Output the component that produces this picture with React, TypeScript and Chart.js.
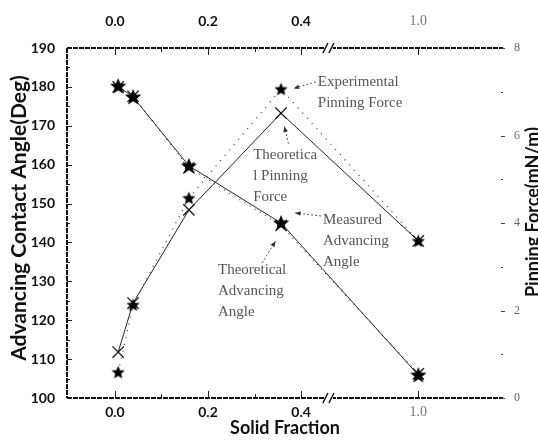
import { useEffect, useRef } from 'react';
import { Chart, registerables } from 'chart.js';
Chart.register(...registerables);

// ---- data ----
const solidFraction = [0.007, 0.039, 0.159, 0.357, 1.0];
const measuredAngle = [180.2, 177.4, 159.7, 145.0, 105.9];
const theoreticalAngle = [180.0, 177.6, 159.2, 144.4, 106.2];
const experimentalForce = [0.59, 2.13, 4.57, 7.06, 3.59];
const theoreticalForce = [1.05, 2.17, 4.3, 6.51, 3.59];
const xTickValues = [0, 0.2, 0.4, 1.0];
const xTickLabels = ['0.0', '0.2', '0.4', '1.0'];
const xMinorValues = [0.1, 0.3];
const angleMin = 100;
const angleMax = 190;
const forceMin = 0;
const forceMax = 8;

// broken x axis: values above BREAK_LO are compressed
const BREAK_LO = 0.45;
const BREAK_SCALE = 0.3673;
const BREAK_POS = 0.462;
const X_MIN = -0.103;
const X_MAX = 0.834;
const toAxis = (v: number) => (v <= BREAK_LO ? v : BREAK_LO + (v - BREAK_LO) * BREAK_SCALE);

type Note = { lines: string[]; x: number; y: number; from: [number, number]; to: [number, number] };
const notes: Note[] = [
  { lines: ['Experimental', 'Pinning Force'], x: 0.436, y: 181.3, from: [0.432, 181.3], to: [0.384, 179.6] },
  { lines: ['Theoretica', 'l Pinning', 'Force'], x: 0.297, y: 162.5, from: [0.373, 165.4], to: [0.364, 169.8] },
  { lines: ['Measured', 'Advancing', 'Angle'], x: 0.447, y: 145.8, from: [0.443, 146.8], to: [0.387, 147.6] },
  { lines: ['Theoretical', 'Advancing', 'Angle'], x: 0.2215, y: 132.9, from: [0.316, 134.7], to: [0.345, 140.3] },
];

function makeStar(size: number) {
  const c = document.createElement('canvas');
  c.width = size;
  c.height = size;
  const g = c.getContext('2d')!;
  const cx = size / 2, cy = size / 2 + 0.5, R = size / 2 - 0.5, r = R * 0.45;
  g.beginPath();
  for (let i = 0; i < 10; i++) {
    const rad = i % 2 === 0 ? R : r;
    const a = -Math.PI / 2 + (i * Math.PI) / 5;
    const px = cx + rad * Math.cos(a), py = cy + rad * Math.sin(a);
    if (i === 0) g.moveTo(px, py); else g.lineTo(px, py);
  }
  g.closePath();
  g.fillStyle = '#000';
  g.fill();
  return c;
}

const decor = {
  id: 'decor',
  afterDatasetsDraw(chart: any) {
    const { ctx, scales } = chart;
    const x = scales.x, y = scales.y;
    ctx.save();
    ctx.font = '15px "Liberation Serif", serif';
    ctx.textBaseline = 'middle';
    ctx.textAlign = 'left';
    for (const n of notes) {
      const px = x.getPixelForValue(n.x);
      const py = y.getPixelForValue(n.y);
      n.lines.forEach((t, i) => {
        const w = ctx.measureText(t).width;
        ctx.fillStyle = '#fff';
        ctx.fillRect(px - 1, py + i * 21 - 7, w + 2, 14);
        ctx.fillStyle = '#555';
        ctx.fillText(t, px, py + i * 21);
      });
      const fx = x.getPixelForValue(n.from[0]), fy = y.getPixelForValue(n.from[1]);
      const tx = x.getPixelForValue(n.to[0]), ty = y.getPixelForValue(n.to[1]);
      ctx.strokeStyle = '#555';
      ctx.lineWidth = 1;
      ctx.setLineDash([2, 2]);
      ctx.beginPath();
      ctx.moveTo(fx, fy);
      ctx.lineTo(tx, ty);
      ctx.stroke();
      ctx.setLineDash([]);
      const ang = Math.atan2(ty - fy, tx - fx);
      ctx.fillStyle = '#333';
      ctx.beginPath();
      ctx.moveTo(tx, ty);
      ctx.lineTo(tx - 6 * Math.cos(ang - 0.4), ty - 6 * Math.sin(ang - 0.4));
      ctx.lineTo(tx - 6 * Math.cos(ang + 0.4), ty - 6 * Math.sin(ang + 0.4));
      ctx.closePath();
      ctx.fill();
    }
    ctx.restore();
  },
  afterDraw(chart: any) {
    const { ctx, chartArea: a, scales } = chart;
    const x = scales.x, y = scales.y, y2 = scales.y2;
    const seg = (x1: number, y1: number, x2: number, y2_: number) => {
      ctx.beginPath();
      ctx.moveTo(x1, y1);
      ctx.lineTo(x2, y2_);
      ctx.stroke();
    };
    ctx.save();
    // frame (left, top, bottom)
    ctx.strokeStyle = '#111';
    ctx.lineWidth = 2;
    ctx.setLineDash([5, 1]);
    seg(a.left, a.top, a.right, a.top);
    seg(a.left, a.bottom, a.right, a.bottom);
    seg(a.left, a.top, a.left, a.bottom);
    ctx.setLineDash([]);
    ctx.lineWidth = 1;
    ctx.strokeStyle = '#222';
    // x ticks (inside, top and bottom)
    for (const v of xTickValues) {
      const px = Math.round(x.getPixelForValue(toAxis(v))) + 0.5;
      seg(px, a.top, px, a.top + 7);
      seg(px, a.bottom, px, a.bottom - 7);
    }
    for (const v of xMinorValues) {
      const px = Math.round(x.getPixelForValue(v)) + 0.5;
      seg(px, a.top, px, a.top + 4);
      seg(px, a.bottom, px, a.bottom - 4);
    }
    // left ticks
    for (let v = angleMin; v <= angleMax; v += 5) {
      const py = Math.round(y.getPixelForValue(v)) + 0.5;
      seg(a.left, py, a.left + (v % 10 === 0 ? 5 : 3), py);
    }
    // right ticks
    ctx.strokeStyle = '#444';
    for (let v = forceMin; v <= forceMax; v += 1) {
      const py = Math.round(y2.getPixelForValue(v)) + 0.5;
      seg(a.right - 2, py, a.right + (v % 2 === 0 ? 2 : 0), py);
    }
    // axis break marks
    const bx = x.getPixelForValue(BREAK_POS);
    for (const by of [a.top, a.bottom]) {
      ctx.fillStyle = '#fff';
      ctx.fillRect(bx - 4, by - 3, 7, 6);
      ctx.strokeStyle = '#111';
      ctx.lineWidth = 1.5;
      seg(bx - 7, by + 5, bx - 2, by - 5);
      seg(bx - 1, by + 5, bx + 4, by - 5);
    }
    // axis titles
    ctx.fillStyle = '#111';
    ctx.textAlign = 'center';
    ctx.textBaseline = 'middle';
    ctx.font = 'bold 21px Lato, sans-serif';
    ctx.save();
    ctx.translate(19, 218);
    ctx.rotate(-Math.PI / 2);
    ctx.fillText('Advancing Contact Angle(Deg)', 0, 0);
    ctx.restore();
    ctx.save();
    ctx.font = 'bold 18px Lato, sans-serif';
    ctx.translate(533, 212);
    ctx.rotate(-Math.PI / 2);
    ctx.fillText('Pinning Force(mN/m)', 0, 0);
    ctx.restore();
    ctx.font = 'bold 18px Lato, sans-serif';
    ctx.fillText('Solid Fraction', (a.left + a.right) / 2, 428);
    ctx.restore();
  },
};

export default function App() {
  const ref = useRef<HTMLCanvasElement>(null);
  useEffect(() => {
    const bigStar = makeStar(18);
    const smallStar = makeStar(15);
    const pts = (vals: number[]) => solidFraction.map((f, i) => ({ x: toAxis(f), y: vals[i] }));
    const xTickColor = (c: any) => (c.tick && c.tick.value > BREAK_LO ? '#777' : '#111');
    const xTickFont = (c: any) =>
      c.tick && c.tick.value > BREAK_LO
        ? { family: '"Liberation Serif", serif', size: 14, weight: 'normal' }
        : { family: 'Lato, sans-serif', size: 14, weight: 'bold' };
    const chart = new Chart(ref.current!, {
      type: 'line',
      data: {
        datasets: [
          {
            label: 'Measured Advancing Angle',
            data: pts(measuredAngle),
            yAxisID: 'y',
            xAxisID: 'x',
            borderColor: '#222',
            borderWidth: 1,
            pointStyle: bigStar as any,
            pointRadius: 9,
          },
          {
            label: 'Theoretical Advancing Angle',
            data: pts(theoreticalAngle),
            yAxisID: 'y',
            xAxisID: 'x',
            borderColor: '#444',
            borderWidth: 1.2,
            borderDash: [1, 5],
            pointStyle: 'crossRot',
            pointRadius: 8,
            pointBorderColor: '#111',
            pointBorderWidth: 1.2,
          },
          {
            label: 'Experimental Pinning Force',
            data: pts(experimentalForce),
            yAxisID: 'y2',
            xAxisID: 'x',
            borderColor: '#444',
            borderWidth: 1.3,
            borderDash: [1, 6],
            pointStyle: smallStar as any,
            pointRadius: 8,
          },
          {
            label: 'Theoretical Pinning Force',
            data: pts(theoreticalForce),
            yAxisID: 'y2',
            xAxisID: 'x',
            borderColor: '#222',
            borderWidth: 1,
            pointStyle: 'crossRot',
            pointRadius: 8,
            pointBorderColor: '#111',
            pointBorderWidth: 1.2,
          },
        ],
      },
      options: {
        responsive: false,
        animation: false,
        layout: { padding: 0 },
        plugins: { legend: { display: false }, tooltip: { enabled: false } },
        scales: {
          x: {
            type: 'linear',
            position: 'bottom',
            min: X_MIN,
            max: X_MAX,
            grid: { display: false, drawTicks: false },
            border: { display: false },
            afterBuildTicks: (s: any) => {
              s.ticks = xTickValues.map((v) => ({ value: toAxis(v) }));
            },
            afterFit: (s: any) => {
              s.height = 42;
            },
            ticks: {
              autoSkip: false,
              maxRotation: 0,
              padding: 6,
              color: xTickColor,
              font: xTickFont as any,
              callback: (_v: any, i: number) => xTickLabels[i],
            },
          },
          x2: {
            type: 'linear',
            position: 'top',
            min: X_MIN,
            max: X_MAX,
            grid: { display: false, drawTicks: false },
            border: { display: false },
            afterBuildTicks: (s: any) => {
              s.ticks = xTickValues.map((v) => ({ value: toAxis(v) }));
            },
            afterFit: (s: any) => {
              s.height = 48;
            },
            ticks: {
              autoSkip: false,
              maxRotation: 0,
              padding: 18,
              color: xTickColor,
              font: xTickFont as any,
              callback: (_v: any, i: number) => xTickLabels[i],
            },
          },
          y: {
            type: 'linear',
            position: 'left',
            min: angleMin,
            max: angleMax,
            grid: { display: false, drawTicks: false },
            border: { display: false },
            afterFit: (s: any) => {
              s.width = 67;
            },
            ticks: {
              stepSize: 10,
              padding: 12,
              color: '#111',
              font: { family: 'Lato, sans-serif', size: 14, weight: 'bold' },
            },
          },
          y2: {
            type: 'linear',
            position: 'right',
            min: forceMin,
            max: forceMax,
            grid: { display: false, drawTicks: false },
            border: { display: false },
            afterFit: (s: any) => {
              s.width = 35;
            },
            ticks: {
              stepSize: 2,
              padding: 11,
              color: '#666',
              font: { family: '"Liberation Serif", serif', size: 12 },
            },
          },
        },
      },
      plugins: [decor],
    });
    return () => chart.destroy();
  }, []);
  return (
    <div style={{ position: 'absolute', left: 0, top: 0, width: 538, height: 440, background: '#fff' }}>
      <canvas ref={ref} width={538} height={440} />
    </div>
  );
}
